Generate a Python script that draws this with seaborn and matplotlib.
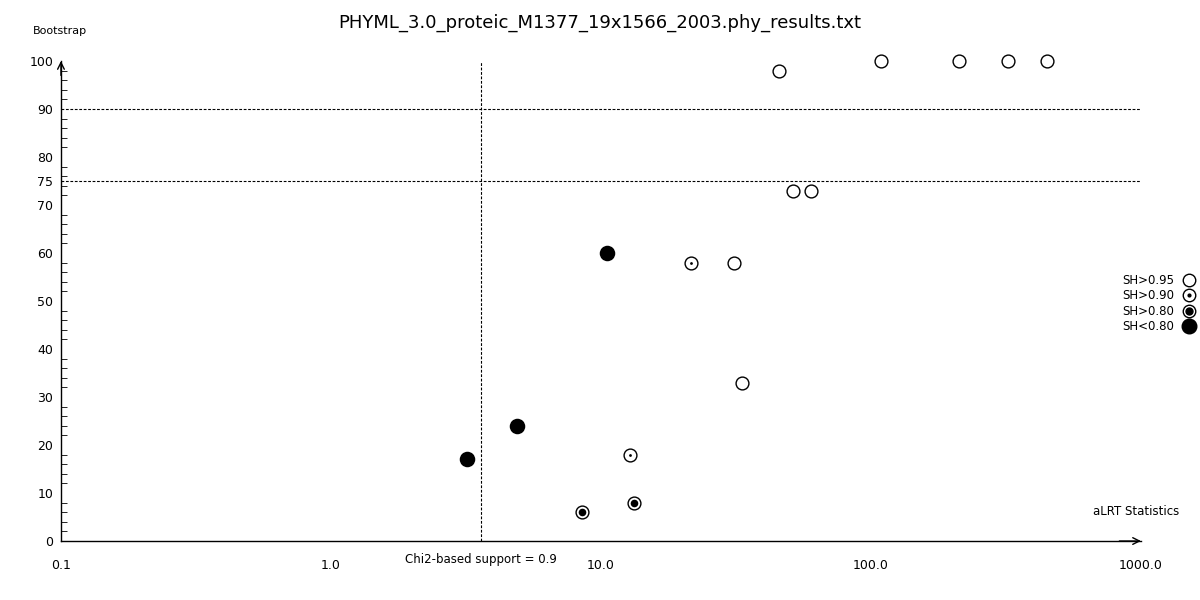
import numpy as np
import pandas as pd
import matplotlib.pyplot as plt
import seaborn as sns
from matplotlib.lines import Line2D
from matplotlib.ticker import FixedLocator, MultipleLocator

# aLRT statistic / bootstrap support, grouped by SH-like support class
open_x = [45.6, 109, 212, 322, 449, 51.4, 59.9, 31.1, 33.3]
open_y = [98, 100, 100, 100, 100, 73, 73, 58, 33]
dot_x = [21.5, 12.8]
dot_y = [58, 18]
ring_x = [8.5, 13.25]
ring_y = [6, 8]
filled_x = [10.5, 4.88, 3.19]
filled_y = [60, 24, 17]

sh_labels = ["SH>0.95", "SH>0.90", "SH>0.80", "SH<0.80"]
x_ticks = [0.1, 1.0, 10.0, 100.0, 1000.0]
x_tick_labels = ["0.1", "1.0", "10.0", "100.0", "1000.0"]
y_ticks = [0, 10, 20, 30, 40, 50, 60, 70, 75, 80, 90, 100]
chi2_cut = 3.6
boot_cuts = [90, 75]
title = "PHYML_3.0_proteic_M1377_19x1566_2003.phy_results.txt"

df = pd.concat([
    pd.DataFrame({"x": open_x, "y": open_y, "sh": sh_labels[0]}),
    pd.DataFrame({"x": dot_x, "y": dot_y, "sh": sh_labels[1]}),
    pd.DataFrame({"x": ring_x, "y": ring_y, "sh": sh_labels[2]}),
    pd.DataFrame({"x": filled_x, "y": filled_y, "sh": sh_labels[3]}),
])

sns.set_style("white")
plt.rcParams["font.family"] = ["DejaVu Sans"]
plt.rcParams["text.color"] = "black"

fig = plt.figure(figsize=(12, 6), dpi=100)
ax = fig.add_axes([0.0508, 0.0983, 0.9, 0.80])

# outer open circle for every point except the filled ones
sns.scatterplot(data=df[df["sh"] != sh_labels[3]], x="x", y="y", ax=ax,
                s=85, facecolor="white", edgecolor="black", linewidth=1.0,
                legend=False, zorder=3)
sns.scatterplot(data=df[df["sh"] == sh_labels[1]], x="x", y="y", ax=ax,
                s=4, color="black", edgecolor="black", linewidth=0,
                legend=False, zorder=4)
sns.scatterplot(data=df[df["sh"] == sh_labels[2]], x="x", y="y", ax=ax,
                s=30, color="black", edgecolor="black", linewidth=0,
                legend=False, zorder=4)
sns.scatterplot(data=df[df["sh"] == sh_labels[3]], x="x", y="y", ax=ax,
                s=125, color="black", edgecolor="black", linewidth=0,
                legend=False, zorder=4)
for coll in ax.collections:
    coll.set_clip_on(False)

ax.set_xscale("log")
ax.set_xlim(0.1, 1000)
ax.set_ylim(0, 100)

# threshold lines
dash = (0, (2.5, 1.5))
for b in boot_cuts:
    ax.plot([0.1, 1000], [b, b], ls=dash, color="black", lw=0.8, zorder=1)
ax.plot([chi2_cut, chi2_cut], [0, 100], ls=dash, color="black", lw=0.8,
        zorder=1)

for side in ["top", "right"]:
    ax.spines[side].set_visible(False)
for side in ["left", "bottom"]:
    ax.spines[side].set_color("black")
    ax.spines[side].set_linewidth(1.0)

# open arrow heads at axis ends
arrow = dict(arrowstyle="->", color="black", lw=1.0,
             mutation_scale=12, shrinkA=0, shrinkB=0)
ax.annotate("", xy=(1.0, 0), xytext=(0.98, 0), xycoords="axes fraction",
            arrowprops=arrow, annotation_clip=False)
ax.annotate("", xy=(0, 1.0), xytext=(0, 0.97), xycoords="axes fraction",
            arrowprops=arrow, annotation_clip=False)

ax.xaxis.set_major_locator(FixedLocator(x_ticks))
ax.set_xticklabels(x_tick_labels)
ax.yaxis.set_major_locator(FixedLocator(y_ticks))
ax.set_yticklabels([str(t) for t in y_ticks])
ax.yaxis.set_minor_locator(MultipleLocator(2))
ax.tick_params(axis="x", which="major", direction="out", length=5,
               labelsize=9, pad=8, colors="black")
ax.tick_params(axis="x", which="minor", direction="out", length=3,
               colors="black")
ax.tick_params(axis="y", which="major", direction="inout", length=7,
               labelsize=9, pad=2, colors="black")
ax.tick_params(axis="y", which="minor", direction="in", length=4,
               colors="black", left=True)
ax.set_xlabel("")
ax.set_ylabel("")

fig.text(0.5, 0.962, title, ha="center", va="center", fontsize=13)
fig.text(0.05, 0.948, "Bootstrap", ha="center", va="center", fontsize=8)
fig.text(0.983, 0.148, "aLRT Statistics", ha="right", va="center",
         fontsize=8.5)
ax.text(chi2_cut, -2.5, "Chi2-based support = 0.9", ha="center", va="top",
        fontsize=8.5)

# legend on the right: overlaid markers reproduce the composite symbols
ring = dict(ls="", marker="o", ms=9, mfc="white", mec="black", mew=1.0)
handles = [
    Line2D([], [], **ring),
    (Line2D([], [], **ring),
     Line2D([], [], ls="", marker="o", ms=2, mfc="black", mec="black")),
    (Line2D([], [], **ring),
     Line2D([], [], ls="", marker="o", ms=5, mfc="black", mec="black")),
    Line2D([], [], ls="", marker="o", ms=10.5, mfc="black", mec="black"),
]
fig.legend(handles, sh_labels, loc="center right",
           bbox_to_anchor=(1.003, 0.494), frameon=False, markerfirst=False,
           fontsize=8.5, handlelength=1.0, handletextpad=0.8,
           labelspacing=0.2, borderpad=0.2)

fig.savefig("out.png", dpi=100)
